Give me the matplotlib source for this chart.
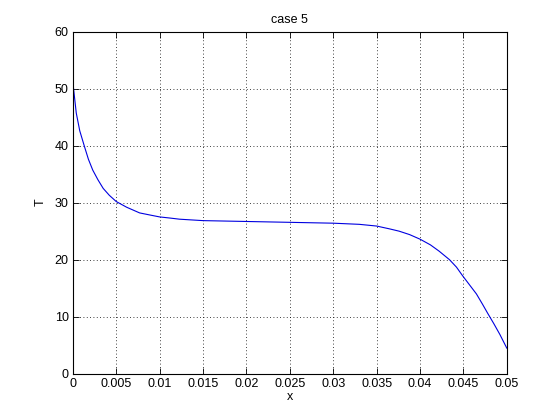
import matplotlib
matplotlib.use("Agg")
import matplotlib.pyplot as plt

# values
x = [0.0, 0.0001, 0.0004, 0.0008, 0.00135, 0.0018, 0.0023, 0.0029, 0.0035,
     0.0042, 0.005, 0.0062, 0.0077, 0.009, 0.01, 0.0112, 0.0123, 0.015,
     0.02, 0.025, 0.03, 0.033, 0.035, 0.0365, 0.0376, 0.0388, 0.04,
     0.0412, 0.0422, 0.0434, 0.0442, 0.0449, 0.0457, 0.0465, 0.0472,
     0.0478, 0.0485, 0.0492, 0.05]
T = [51.4, 49.8, 45.7, 42.6, 39.8, 37.6, 35.7, 34.0, 32.5,
     31.3, 30.2, 29.2, 28.2, 27.8, 27.5, 27.3, 27.1, 26.85,
     26.7, 26.55, 26.4, 26.2, 25.9, 25.4, 25.0, 24.4, 23.6,
     22.6, 21.5, 20.0, 18.7, 17.2, 15.6, 14.0, 12.2,
     10.6, 8.8, 6.9, 4.5]

xticks = [0, 0.005, 0.01, 0.015, 0.02, 0.025, 0.03, 0.035, 0.04, 0.045, 0.05]
xticklabels = ["0", "0.005", "0.01", "0.015", "0.02", "0.025", "0.03",
               "0.035", "0.04", "0.045", "0.05"]
yticks = [0, 10, 20, 30, 40, 50, 60]

plt.rcParams['font.family'] = ['Liberation Sans', 'DejaVu Sans']
plt.rcParams['font.size'] = 9

fig = plt.figure(figsize=(5.6, 4.2), dpi=100)
ax = fig.add_axes([0.13, 0.11, 0.775, 0.815])

ax.plot(x, T, color='#0000e0', linewidth=0.8)

ax.set_xlim(0, 0.05)
ax.set_ylim(0, 60)
ax.set_xticks(xticks)
ax.set_xticklabels(xticklabels)
ax.set_yticks(yticks)
ax.tick_params(direction='in', top=True, right=True, length=4, width=0.6,
               labelsize=9, pad=3)
ax.grid(True, color='black', linestyle=(0, (1, 3)), linewidth=0.6)
for s in ax.spines.values():
    s.set_linewidth(0.8)

ax.set_xlabel('x', fontsize=9, labelpad=1)
ax.set_ylabel('T', fontsize=9, labelpad=6)
ax.set_title('case 5', fontsize=9, pad=6)

fig.savefig('out.png', dpi=100, facecolor='white')
